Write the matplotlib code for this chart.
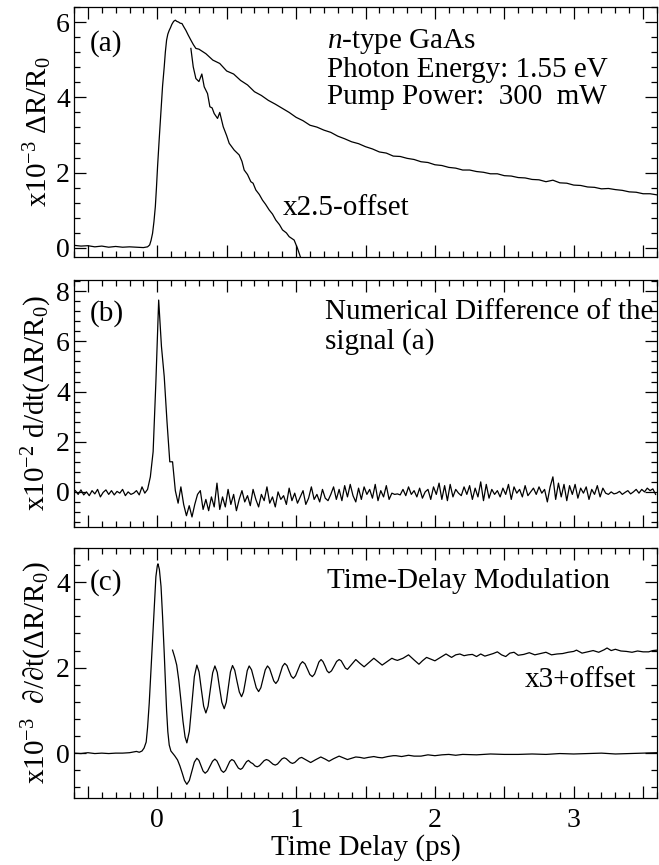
import numpy as np
import matplotlib
matplotlib.use("Agg")
import matplotlib.pyplot as plt
from matplotlib.ticker import MultipleLocator, FuncFormatter

plt.rcParams['font.family'] = ['Liberation Serif', 'DejaVu Serif']
plt.rcParams['mathtext.fontset'] = 'custom'
plt.rcParams['mathtext.rm'] = 'Liberation Serif'
plt.rcParams['mathtext.it'] = 'Liberation Serif:italic'

# ---- panel (a): dR/R ----
a_head_t = [-0.6, -0.55, -0.5, -0.45, -0.4, -0.35, -0.3, -0.25, -0.2, -0.15,
            -0.1, -0.07, -0.055, -0.045, -0.034, -0.024, -0.014, -0.006, 0.002, 0.014,
            0.027, 0.038, 0.05, 0.058, 0.067, 0.076, 0.086, 0.095, 0.105, 0.118,
            0.13, 0.14, 0.153, 0.165, 0.178, 0.19, 0.206, 0.222, 0.242, 0.26, 0.278]
a_head_v = [0.07, 0.05, 0.06, 0.03, 0.05, 0.02, 0.04, 0.02, 0.03, 0.02,
            0.01, 0.03, 0.08, 0.2, 0.39, 0.7, 1.1, 1.6, 2.16, 2.9,
            3.66, 4.3, 4.81, 5.2, 5.52, 5.68, 5.78, 5.85, 5.94, 6.02,
            6.05, 6.02, 6.0, 5.97, 5.96, 5.88, 5.78, 5.66, 5.52, 5.4, 5.3]
# tail sampled every 0.05 ps from 0.30 ps
a_tail_v = [5.28, 5.16, 4.99, 4.90, 4.70, 4.62, 4.45, 4.33, 4.15, 4.05,
            3.92, 3.82, 3.71, 3.60, 3.47, 3.38, 3.26, 3.21, 3.13, 3.07,
            2.97, 2.90, 2.82, 2.77, 2.69, 2.63, 2.55, 2.52, 2.44, 2.43,
            2.38, 2.35, 2.29, 2.27, 2.21, 2.19, 2.14, 2.12, 2.07, 2.07,
            2.03, 2.01, 1.97, 1.97, 1.92, 1.91, 1.87, 1.86, 1.82, 1.81,
            1.76, 1.80, 1.73, 1.72, 1.67, 1.66, 1.62, 1.61, 1.57, 1.58,
            1.55, 1.53, 1.49, 1.48, 1.44, 1.44, 1.41]

a_off_t = [0.242, 0.259, 0.278, 0.30, 0.321, 0.338, 0.362, 0.379, 0.395, 0.41,
           0.434, 0.45, 0.475, 0.5, 0.518, 0.554, 0.59, 0.61, 0.626, 0.65,
           0.674, 0.69, 0.71, 0.735, 0.758, 0.78, 0.806, 0.83, 0.854, 0.88,
           0.902, 0.93, 0.95, 0.986, 1.01, 1.034]
a_off_v = [5.3, 4.81, 4.5, 4.42, 4.62, 4.28, 4.1, 3.75, 3.72, 3.57,
           3.44, 3.6, 3.22, 2.98, 2.78, 2.6, 2.47, 2.3, 2.07, 1.95,
           1.76, 1.72, 1.54, 1.42, 1.27, 1.16, 1.01, 0.9, 0.74, 0.62,
           0.48, 0.4, 0.3, 0.21, -0.01, -0.27]

# ---- panel (b): numerical difference, sampled every 0.02 ps from -0.59 ps ----
b_v = [0.05, -0.1, 0.08, -0.12, 0.0, -0.15, 0.05, -0.08, 0.1, -0.2,
       -0.02, 0.08, -0.1, 0.05, -0.12, 0.02, -0.05, 0.1, -0.15, 0.0,
       -0.1, -0.05, 0.05, -0.12, 0.2, -0.05, 0.1,
       0.6, 1.6, 4.4, 7.65, 5.8, 4.6, 2.8, 1.2, 1.2, 0.05,
       -0.45, 0.2, -0.5, -0.95, -0.55, -1.0, -0.5, -0.1, 0.05, -0.7,
       -0.3, -0.75, -0.2, -0.6, 0.35,
       -0.7, -0.2, -0.6, 0.1, -0.5, -0.1, -0.75, -0.3, 0.05, -0.4,
       -0.15, -0.55, 0.1, -0.3, -0.6, -0.1, -0.35, 0.2, -0.45, -0.2,
       -0.6, 0.0, -0.3, -0.15, -0.5, 0.15, -0.35, -0.05, -0.45, -0.2,
       0.05, -0.5, -0.25, 0.2, -0.3, -0.1, -0.4, 0.1, -0.25, -0.35,
       -0.1, 0.2, -0.3, 0.1, -0.35, 0.25, -0.2, 0.3, -0.15, -0.4,
       0.15, -0.3, 0.2, -0.1, 0.1, -0.25, 0.3, -0.35, 0.05, -0.2,
       0.25, -0.3, -0.05, -0.1, -0.08, -0.12, 0.1, -0.15, 0.2, -0.1,
       0.05, -0.2, 0.15, -0.25, 0.0, 0.1, -0.3, 0.2, -0.1, 0.35,
       -0.3, 0.25, -0.35, 0.3, -0.2, 0.1, -0.05, -0.15, 0.2, -0.1,
       0.25, -0.3, 0.15, -0.2, 0.4, -0.35, 0.3, -0.25, 0.1, -0.1,
       0.05, -0.2, 0.15, -0.1, 0.3, -0.3, 0.2, -0.05, 0.1, -0.2,
       0.25, -0.15, 0.0, 0.15, -0.1, 0.2, -0.05, 0.1, -0.4, 0.2,
       0.6, -0.3, 0.35, -0.2, 0.3, -0.35, 0.25, -0.1, 0.3, -0.25,
       0.15, -0.05, 0.2, -0.3, 0.1, -0.1, 0.25, -0.2, 0.15, -0.05,
       -0.1, 0.0, -0.08, -0.05, 0.02, -0.1, -0.02, 0.05, -0.08, 0.0,
       0.1, -0.05, 0.1, 0.0, 0.15, 0.05, 0.12, -0.1]

# ---- panel (c): time-delay modulation ----
c_t = [-0.6, -0.55, -0.5, -0.45, -0.4, -0.35, -0.3, -0.25, -0.2, -0.15,
       -0.13, -0.11, -0.095, -0.08, -0.07, -0.058, -0.046, -0.034, -0.022, -0.01,
       0.0, 0.005, 0.015, 0.027, 0.038, 0.05, 0.058, 0.067, 0.076, 0.086,
       0.098, 0.11, 0.125, 0.146, 0.163, 0.18, 0.196, 0.213, 0.231, 0.249,
       0.267, 0.285, 0.3, 0.315, 0.33, 0.345, 0.362, 0.38, 0.398, 0.415,
       0.43, 0.446, 0.461, 0.477, 0.492, 0.507, 0.522, 0.537, 0.553, 0.568,
       0.584, 0.6, 0.614, 0.628, 0.643, 0.657, 0.673, 0.688, 0.704, 0.72,
       0.736, 0.753, 0.77, 0.786, 0.802, 0.818, 0.834, 0.85, 0.866, 0.882,
       0.898, 0.914, 0.929, 0.944, 0.959, 0.974, 0.99, 1.007, 1.023, 1.04,
       1.072, 1.105, 1.14, 1.178, 1.21, 1.237, 1.27, 1.31, 1.34, 1.37,
       1.40, 1.43, 1.46, 1.49, 1.52, 1.56, 1.59, 1.62, 1.66, 1.70,
       1.72, 1.76, 1.81, 1.85, 1.9, 1.95, 2.0, 2.05, 2.1, 2.15,
       2.2, 2.3, 2.4, 2.5, 2.6, 2.7, 2.8, 2.9, 3.0, 3.1,
       3.2, 3.3, 3.4, 3.5, 3.6]
c_v = [0.0, -0.01, 0.01, -0.01, 0.0, -0.01, 0.0, 0.0, 0.01, 0.04,
       0.02, 0.05, 0.12, 0.26, 0.6, 1.17, 1.9, 2.65, 3.4, 4.13,
       4.38, 4.43, 4.3, 3.9, 3.2, 2.34, 1.7, 1.0, 0.5, 0.19,
       0.05, 0.0, -0.06, -0.16, -0.3, -0.47, -0.64, -0.73, -0.64, -0.425,
       -0.21, -0.12, -0.17, -0.295, -0.42, -0.47, -0.42, -0.305, -0.19, -0.14,
       -0.185, -0.295, -0.405, -0.45, -0.405, -0.3, -0.195, -0.15, -0.18, -0.265,
       -0.35, -0.38, -0.35, -0.275, -0.2, -0.17, -0.22, -0.245, -0.3, -0.32,
       -0.295, -0.235, -0.175, -0.15, -0.17, -0.215, -0.26, -0.28, -0.255, -0.195,
       -0.135, -0.11, -0.13, -0.175, -0.22, -0.24, -0.22, -0.17, -0.12, -0.10,
       -0.16, -0.22, -0.155, -0.09, -0.14, -0.19, -0.13, -0.07, -0.11, -0.15,
       -0.12, -0.09, -0.10, -0.12, -0.10, -0.08, -0.10, -0.11, -0.08, -0.06,
       -0.06, -0.08, -0.05, -0.07, -0.07, -0.04, -0.06, -0.04, -0.03, -0.05,
       -0.03, -0.04, -0.02, -0.03, -0.03, -0.02, -0.03, -0.01, -0.02, -0.01,
       0.0, -0.02, -0.01, 0.0, 0.01]

c3_t = [0.11, 0.125, 0.14, 0.155, 0.17, 0.185, 0.2, 0.213, 0.231, 0.249,
        0.267, 0.285, 0.301, 0.317, 0.334, 0.35, 0.366, 0.382, 0.399, 0.415,
        0.432, 0.448, 0.465, 0.482, 0.497, 0.512, 0.527, 0.542, 0.558, 0.574,
        0.591, 0.607, 0.621, 0.635, 0.648, 0.662, 0.679, 0.696, 0.713, 0.73,
        0.746, 0.762, 0.778, 0.794, 0.809, 0.824, 0.839, 0.854, 0.87, 0.886,
        0.902, 0.918, 0.934, 0.949, 0.965, 0.98, 0.996, 1.013, 1.03, 1.046,
        1.064, 1.082, 1.099, 1.117, 1.133, 1.149, 1.164, 1.18, 1.194, 1.209,
        1.223, 1.237, 1.255, 1.274, 1.292, 1.31, 1.325, 1.34, 1.355, 1.37,
        1.40, 1.43, 1.46, 1.49, 1.525, 1.56, 1.59, 1.62, 1.655, 1.69,
        1.71, 1.73, 1.77, 1.81, 1.85, 1.885, 1.91, 1.94, 1.97, 2.0,
        2.04, 2.08, 2.10, 2.12, 2.15, 2.18, 2.21, 2.24, 2.27, 2.30,
        2.33, 2.36, 2.39, 2.42, 2.45, 2.48, 2.51, 2.54, 2.57, 2.60,
        2.64, 2.68, 2.72, 2.76, 2.80, 2.84, 2.88, 2.92, 2.96, 3.0,
        3.02, 3.06, 3.1, 3.14, 3.18, 3.22, 3.24, 3.27, 3.30, 3.34,
        3.38, 3.42, 3.46, 3.50, 3.54, 3.57, 3.6]
c3_v = [2.41, 2.25, 2.06, 1.7, 1.24, 0.75, 0.38, 0.24, 0.51, 1.15,
        1.79, 2.06, 1.90, 1.5, 1.10, 0.94, 1.10, 1.49, 1.88, 2.04,
        1.89, 1.54, 1.19, 1.04, 1.19, 1.545, 1.90, 2.05, 1.94, 1.685,
        1.43, 1.32, 1.43, 1.68, 1.93, 2.04, 1.95, 1.74, 1.53, 1.44,
        1.53, 1.74, 1.95, 2.04, 1.98, 1.835, 1.69, 1.63, 1.70, 1.865,
        2.03, 2.10, 2.05, 1.925, 1.80, 1.75, 1.81, 1.945, 2.08, 2.14,
        2.09, 1.965, 1.84, 1.79, 1.85, 1.99, 2.13, 2.19, 2.14, 2.035,
        1.925, 1.88, 1.925, 2.035, 2.145, 2.19, 2.16, 2.075, 1.99, 1.96,
        2.075, 2.19, 2.10, 2.02, 2.12, 2.22, 2.14, 2.06, 2.14, 2.22,
        2.19, 2.17, 2.22, 2.30, 2.18, 2.08, 2.16, 2.24, 2.20, 2.16,
        2.24, 2.32, 2.28, 2.24, 2.30, 2.32, 2.28, 2.30, 2.31, 2.26,
        2.32, 2.27, 2.30, 2.33, 2.37, 2.30, 2.26, 2.34, 2.36, 2.29,
        2.31, 2.35, 2.30, 2.33, 2.36, 2.30, 2.32, 2.33, 2.36, 2.38,
        2.41, 2.34, 2.37, 2.40, 2.36, 2.42, 2.46, 2.40, 2.43, 2.39,
        2.38, 2.36, 2.39, 2.37, 2.37, 2.40, 2.41]

a_t = np.concatenate([a_head_t, 0.30 + 0.05 * np.arange(len(a_tail_v))])
a_v = np.concatenate([a_head_v, a_tail_v])
b_t = -0.59 + 0.02 * np.arange(len(b_v))

fig = plt.figure(figsize=(6.59, 8.65), dpi=100)
L, W = 74 / 659, 583 / 659
ax_a = fig.add_axes([L, 1 - 257 / 865, W, 250 / 865])
ax_b = fig.add_axes([L, 1 - 527 / 865, W, 247 / 865])
ax_c = fig.add_axes([L, 1 - 798 / 865, W, 250 / 865])

lw = 0.9
ax_a.plot(a_t, a_v, color='black', lw=lw)
ax_a.plot(a_off_t, a_off_v, color='black', lw=lw)
ax_b.plot(b_t, b_v, color='black', lw=lw)
ax_c.plot(c_t, c_v, color='black', lw=lw)
ax_c.plot(c3_t, c3_v, color='black', lw=lw)

ax_a.set_ylim(-0.24, 6.4)
ax_b.set_ylim(-1.4, 8.45)
ax_c.set_ylim(-1.05, 4.8)

int_fmt = FuncFormatter(lambda v, p: "%d" % round(v) if abs(v - round(v)) < 1e-6 else "")
for ax in (ax_a, ax_b, ax_c):
    ax.set_xlim(-0.6, 3.6)
    ax.xaxis.set_major_locator(MultipleLocator(0.5))
    ax.xaxis.set_minor_locator(MultipleLocator(0.1))
    ax.yaxis.set_major_locator(MultipleLocator(2))
    ax.yaxis.set_minor_locator(MultipleLocator(0.4))
    ax.xaxis.set_major_formatter(int_fmt)
    ax.tick_params(which='both', direction='in', top=True, right=True,
                   labelsize=20, width=0.9)
    ax.tick_params(which='major', length=8.5)
    ax.tick_params(which='minor', length=4.5)
    ax.tick_params(axis='y', pad=3)
    ax.tick_params(axis='x', pad=7)
    for s in ax.spines.values():
        s.set_linewidth(0.9)
ax_a.tick_params(labelbottom=False)
ax_b.tick_params(labelbottom=False)

fs = 21
ax_a.set_ylabel("x10$^{-3}$ ΔR/R$_0$", fontsize=fs)
ax_b.set_ylabel("x10$^{-2}$ d/dt(ΔR/R$_0$)", fontsize=fs)
ax_c.set_ylabel("x10$^{-3}$  ∂/∂t(ΔR/R$_0$)", fontsize=fs)
for ax in (ax_a, ax_b, ax_c):
    ax.yaxis.set_label_coords(-0.035, 0.5)
ax_c.set_xlabel("Time Delay (ps)", fontsize=fs, labelpad=1)

ax_a.text(0.027, 0.852, "(a)", transform=ax_a.transAxes, fontsize=fs, va='center')
ax_a.text(0.434, 0.864, "$n$-type GaAs", transform=ax_a.transAxes, fontsize=fs, va='center')
ax_a.text(0.434, 0.748, "Photon Energy: 1.55 eV", transform=ax_a.transAxes, fontsize=fs, va='center')
ax_a.text(0.434, 0.640, "Pump Power:  300  mW", transform=ax_a.transAxes, fontsize=fs, va='center')
ax_a.text(0.358, 0.196, "x2.5-offset", transform=ax_a.transAxes, fontsize=fs, va='center')

ax_b.text(0.027, 0.866, "(b)", transform=ax_b.transAxes, fontsize=fs, va='center')
ax_b.text(0.43, 0.870, "Numerical Difference of the", transform=ax_b.transAxes, fontsize=fs, va='center')
ax_b.text(0.43, 0.749, "signal (a)", transform=ax_b.transAxes, fontsize=fs, va='center')

ax_c.text(0.027, 0.86, "(c)", transform=ax_c.transAxes, fontsize=fs, va='center')
ax_c.text(0.434, 0.868, "Time-Delay Modulation", transform=ax_c.transAxes, fontsize=fs, va='center')
ax_c.text(0.774, 0.472, "x3+offset", transform=ax_c.transAxes, fontsize=fs, va='center')

fig.savefig("out.png", dpi=100)
